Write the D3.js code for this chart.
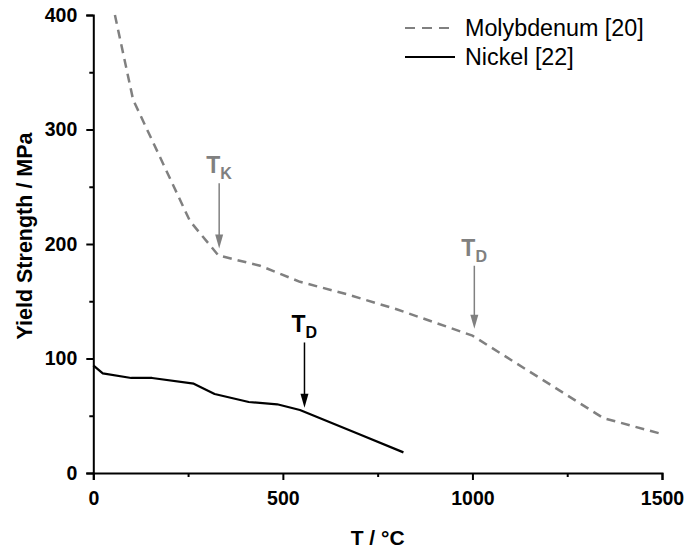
<!DOCTYPE html>
<html>
<head>
<meta charset="utf-8">
<script src="https://cdn.jsdelivr.net/npm/d3@7"></script>
<style>
  html, body { margin: 0; padding: 0; background: #fff; }
  svg { display: block; font-family: "Liberation Sans", Arial, Helvetica, sans-serif; }
</style>
</head>
<body>
<svg id="chart" width="689" height="548"></svg>
<script>
// Yield strength vs temperature
const xTicks = [0, 500, 1000, 1500];
const xMinor = [250, 750, 1250];
const yTicks = [0, 100, 200, 300, 400];
const yMinor = [50, 150, 250, 350];

// Molybdenum [20]: [T (°C), yield strength (MPa)]
const molyT = [57, 105, 255, 330, 440, 545, 670, 800, 1000, 1345, 1500];
const molyS = [400, 326, 220, 190, 181, 167, 156, 143, 120, 48, 34];

// Nickel [22]
const nickelT = [0, 25, 100, 155, 265, 320, 410, 485, 545, 700, 818];
const nickelS = [94, 87, 83, 83, 78, 69, 62, 60, 55, 34, 18];

// Transition markers: label, subscript, temperature, arrow start/end strength, colour
const markers = [
  { main: "T", sub: "K", t: 332, from: 253, to: 196, color: "#808080" },
  { main: "T", sub: "D", t: 1005, from: 181, to: 126, color: "#808080" },
  { main: "T", sub: "D", t: 557, from: 114, to: 57, color: "#000000" }
];

const legendItems = [
  { label: "Molybdenum [20]", color: "#808080", dash: "10,7" },
  { label: "Nickel [22]", color: "#000000", dash: null }
];

const svg = d3.select("#chart");
const x = d3.scaleLinear().domain([0, 1500]).range([93.3, 662]);
const y = d3.scaleLinear().domain([0, 400]).range([473, 15]);

// axes
svg.append("g").attr("transform", `translate(0,${y(0)})`)
  .call(d3.axisBottom(x).tickValues(xTicks).tickSize(7).tickPadding(11).tickFormat(d3.format("d")));
svg.append("g").attr("transform", `translate(0,${y(0)})`)
  .call(d3.axisBottom(x).tickValues(xMinor).tickSize(4).tickFormat(""))
  .call(g => g.select(".domain").remove());

svg.append("g").attr("transform", `translate(${x(0)},0)`)
  .call(d3.axisLeft(y).tickValues(yTicks).tickSize(7).tickPadding(9).tickFormat(d3.format("d")));
svg.append("g").attr("transform", `translate(${x(0)},0)`)
  .call(d3.axisLeft(y).tickValues(yMinor).tickSize(4).tickFormat(""))
  .call(g => g.select(".domain").remove());

svg.selectAll(".domain").attr("stroke", "#000").attr("stroke-width", 2);
svg.selectAll(".tick line").attr("stroke", "#000").attr("stroke-width", 2);
svg.selectAll(".tick text").attr("fill", "#000")
  .style("font-size", "19.5px").style("font-weight", "bold")
  .style("font-family", '"Liberation Sans", Arial, sans-serif');

// axis titles
svg.append("text")
  .attr("x", (x(0) + x(1500)) / 2).attr("y", 545)
  .attr("text-anchor", "middle")
  .style("font-size", "21px").style("font-weight", "bold")
  .text("T / °C");

svg.append("text")
  .attr("transform", `translate(32,236) rotate(-90)`)
  .attr("text-anchor", "middle")
  .style("font-size", "21.5px").style("font-weight", "bold")
  .text("Yield Strength / MPa");

// series
const line = d3.line().x(d => x(d[0])).y(d => y(d[1]));
const moly = molyT.map((t, i) => [t, molyS[i]]);
const nickel = nickelT.map((t, i) => [t, nickelS[i]]);

svg.append("path").datum(moly)
  .attr("d", line).attr("fill", "none")
  .attr("stroke", "#808080").attr("stroke-width", 2.5)
  .attr("stroke-dasharray", "9,6");

svg.append("path").datum(nickel)
  .attr("d", line).attr("fill", "none")
  .attr("stroke", "#000").attr("stroke-width", 2.2)
  .attr("stroke-linejoin", "round");

// transition arrows with labels
markers.forEach(m => {
  const px = x(m.t), y0 = y(m.from), y1 = y(m.to);
  svg.append("line")
    .attr("x1", px).attr("x2", px).attr("y1", y0).attr("y2", y1 - 12)
    .attr("stroke", m.color).attr("stroke-width", 1.5);
  svg.append("path")
    .attr("d", `M${px - 4},${y1 - 14} L${px + 4},${y1 - 14} L${px},${y1} Z`)
    .attr("fill", m.color);
  const t = svg.append("text")
    .attr("x", px - 13).attr("y", y0 - 10)
    .attr("text-anchor", "start")
    .attr("fill", m.color)
    .style("font-size", "23px").style("font-weight", "bold");
  t.append("tspan").text(m.main);
  t.append("tspan").attr("dy", 6).style("font-size", "16px").text(m.sub);
});

// legend
const leg = svg.append("g");
legendItems.forEach((d, i) => {
  const ly = 28 + i * 29;
  leg.append("line")
    .attr("x1", 405).attr("x2", 455).attr("y1", ly).attr("y2", ly)
    .attr("stroke", d.color).attr("stroke-width", 2.2)
    .attr("stroke-dasharray", d.dash);
  leg.append("text")
    .attr("x", 465).attr("y", ly + 8)
    .attr("fill", "#000")
    .style("font-size", "23.3px")
    .text(d.label);
});
</script>
</body>
</html>
